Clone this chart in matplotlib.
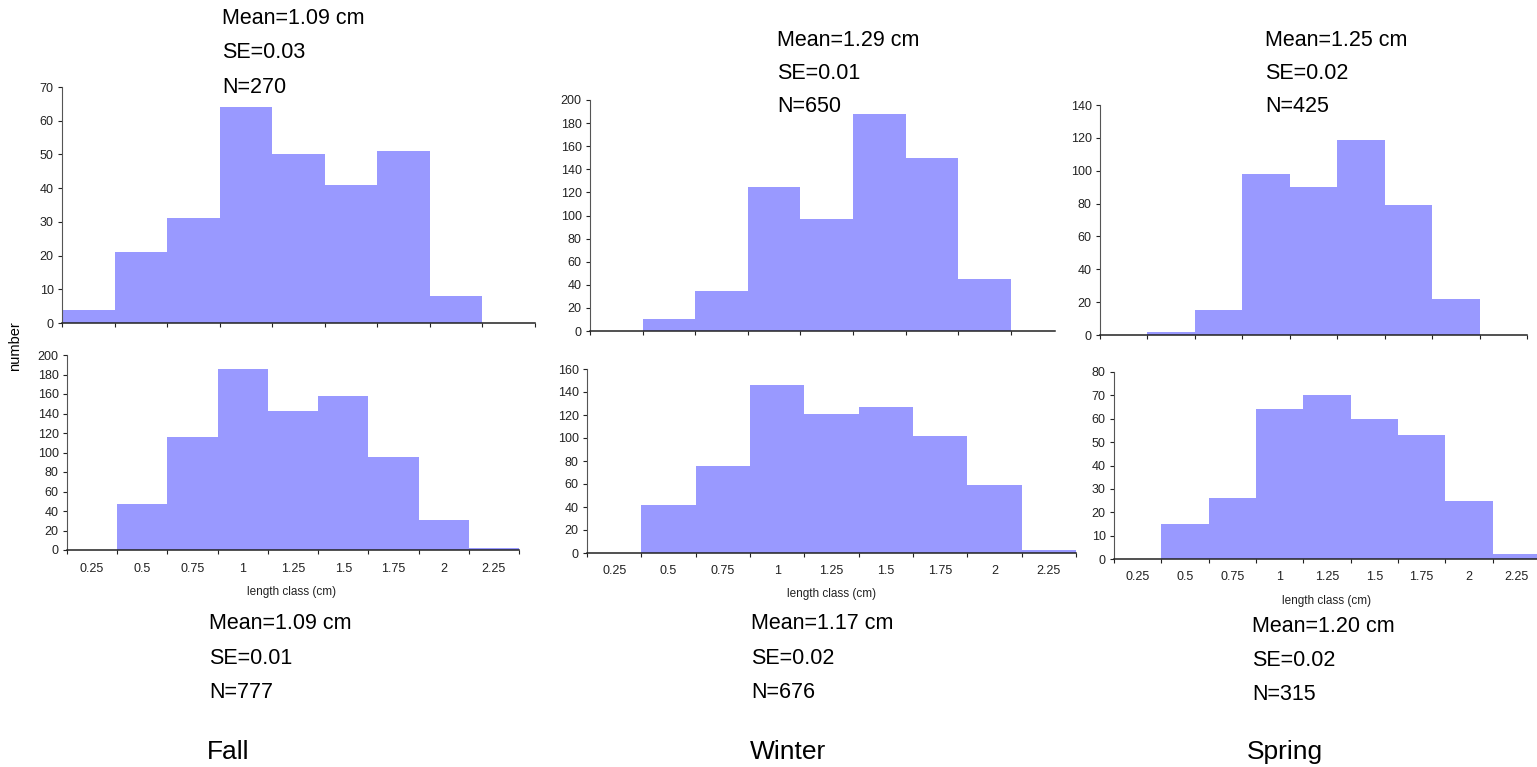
"""
Length-class histograms per season (upper and lower panels), rebuilt with matplotlib.
"""
import numpy as np
import matplotlib
matplotlib.use("Agg")
import matplotlib.pyplot as plt
from matplotlib.ticker import FixedLocator, NullFormatter, FixedFormatter

plt.rcParams['font.family'] = ['Liberation Sans', 'DejaVu Sans']

# length classes (bin centres, cm) and their labels
length_class = [0.25, 0.5, 0.75, 1.0, 1.25, 1.5, 1.75, 2.0, 2.25]
class_labels = ['0.25', '0.5', '0.75', '1', '1.25', '1.5', '1.75', '2', '2.25']
bin_width = 0.25

# counts
fall_top = [4, 21, 31, 64, 50, 41, 51, 8, 0]
fall_bottom = [0, 47, 116, 186, 143, 158, 95, 31, 2]
winter_top = [0, 10, 35, 125, 97, 188, 150, 45, 0]
winter_bottom = [0, 42, 76, 146, 121, 127, 102, 59, 3]
spring_top = [0, 2, 15, 98, 90, 119, 79, 22, 0]
spring_bottom = [0, 15, 26, 64, 70, 60, 53, 25, 2]

seasons = ['Fall', 'Winter', 'Spring']
top_stats = [('1.09', '0.03', '270'), ('1.29', '0.01', '650'), ('1.25', '0.02', '425')]
bottom_stats = [('1.09', '0.01', '777'), ('1.17', '0.02', '676'), ('1.20', '0.02', '315')]

BAR_COLOR = '#9999FF'
AXIS_COLOR = '#222222'
W, H = 1537, 767

fig = plt.figure(figsize=(W / 100, H / 100), dpi=100)


def add_axes_px(left, right, top, bottom):
    return fig.add_axes([left / W, 1 - bottom / H, (right - left) / W, (bottom - top) / H])


def fig_text(x, y, s, **kw):
    fig.text(x / W, 1 - y / H, s, **kw)


def draw_hist(rect, counts, ymax, ystep, xmax, show_labels):
    ax = add_axes_px(*rect)
    ax.bar(length_class, counts, width=bin_width, color=BAR_COLOR, linewidth=0, zorder=2)
    ax.set_xlim(length_class[0] - bin_width / 2, xmax)
    ax.set_ylim(0, ymax)
    ax.set_yticks(np.arange(0, ymax + 1, ystep))
    edges = [c - bin_width / 2 for c in length_class] + [length_class[-1] + bin_width / 2]
    ax.xaxis.set_major_locator(FixedLocator(edges))
    ax.xaxis.set_major_formatter(NullFormatter())
    if show_labels:
        ax.xaxis.set_minor_locator(FixedLocator(length_class))
        ax.xaxis.set_minor_formatter(FixedFormatter(class_labels))
    ax.tick_params(axis='x', which='major', direction='out', length=3, width=0.8, color=AXIS_COLOR)
    ax.tick_params(axis='x', which='minor', length=0, pad=9, labelsize=9, labelcolor='#222222')
    ax.tick_params(axis='y', direction='out', length=3, width=0.8, pad=3, labelsize=9,
                   color=AXIS_COLOR, labelcolor='#222222')
    for side in ('top', 'right'):
        ax.spines[side].set_visible(False)
    ax.spines['left'].set_color('#555555')
    ax.spines['bottom'].set_color(AXIS_COLOR)
    ax.spines['bottom'].set_linewidth(1.1)
    ax.spines['bottom'].set_zorder(3)
    ax.patch.set_alpha(0)
    return ax


# (left, right, top, bottom) in pixels, ymax, ystep, right x limit
draw_hist((62, 535, 87, 323), fall_top, 70, 10, 2.375, False)
draw_hist((67, 519, 355, 550), fall_bottom, 200, 20, 2.375, True)
draw_hist((590, 1055, 100, 331), winter_top, 200, 20, 2.335, False)
draw_hist((587, 1076, 369, 553), winter_bottom, 160, 20, 2.375, True)
draw_hist((1100, 1527, 105, 335), spring_top, 140, 20, 2.375, False)
draw_hist((1114, 1537, 372, 559), spring_bottom, 80, 10, 2.36, True)

# axis titles
fig_text(15, 346, 'number', rotation=90, ha='center', va='center', fontsize=10.5)
for x, y in [(292, 592), (832, 594), (1327, 601)]:
    fig_text(x, y, 'length class (cm)', ha='center', va='center', fontsize=8.5, color='#222222')

# stats above the upper panels and below the lower panels
top_pos = [(222, [24, 58, 93]), (777, [46, 79, 112]), (1265, [46, 79, 112])]
bottom_pos = [(209, [629, 664, 698]), (751, [629, 664, 698]), (1252, [632, 666, 700])]
for (x, ys), (mean, se, n) in zip(top_pos, top_stats):
    for y, s in zip(ys, [f'Mean={mean} cm', f'SE={se}', f'N={n}']):
        fig_text(x, y, s, ha='left', va='baseline', fontsize=15.5)
for (x, ys), (mean, se, n) in zip(bottom_pos, bottom_stats):
    for y, s in zip(ys, [f'Mean={mean} cm', f'SE={se}', f'N={n}']):
        fig_text(x, y, s, ha='left', va='baseline', fontsize=15.5)

# season names
for x, name in zip([207, 750, 1247], seasons):
    fig_text(x, 759, name, ha='left', va='baseline', fontsize=19)

fig.savefig('out.png', dpi=100)
